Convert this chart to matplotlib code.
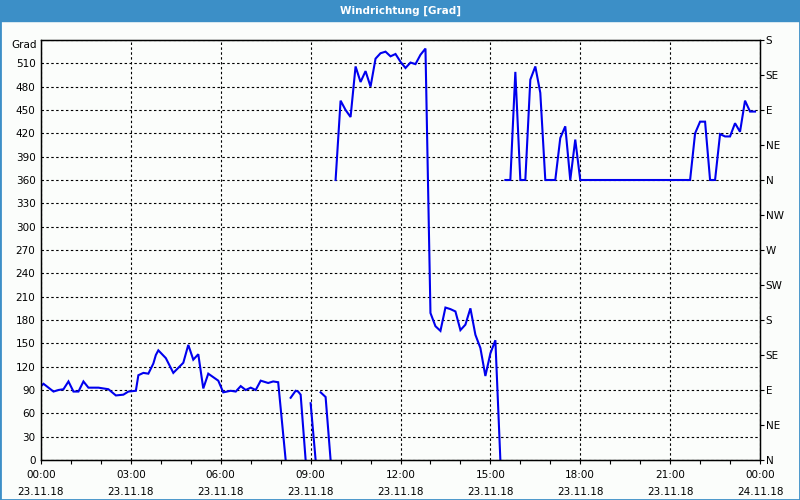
import numpy as np
import matplotlib.pyplot as plt
from matplotlib.patches import Rectangle

# wind direction readings, np.nan marks a break in the line
times = ["00:00", "00:05", "00:25", "00:35", "00:45", "00:55", "01:05", "01:15", "01:25", "01:35",
         "01:55", "02:15", "02:30", "02:45", "02:55", "03:10", "03:15", "03:25", "03:35", "03:45",
         "03:50", "03:55", "04:10", "04:25", "04:45", "04:55", "05:05", "05:15", "05:25", "05:35",
         "05:55", "06:05", "06:20", "06:30", "06:40", "06:50", "07:00", "07:10", "07:20", "07:35",
         "07:45", "07:55", "08:10", "08:15",
         "08:20", "08:30", "08:35", "08:40", "08:50", "08:55",
         "09:00", "09:10", "09:15",
         "09:20", "09:30", "09:40", "09:45",
         "09:50", "10:00", "10:10", "10:20", "10:30", "10:40", "10:50", "11:00", "11:10", "11:20",
         "11:30", "11:40", "11:50", "12:00", "12:10", "12:20", "12:30", "12:40", "12:50", "13:00",
         "13:10", "13:20", "13:30", "13:40", "13:50", "14:00", "14:10", "14:20", "14:30", "14:40",
         "14:50", "15:00", "15:10", "15:20", "15:25",
         "15:30", "15:40", "15:50", "16:00", "16:10", "16:20", "16:30", "16:40", "16:50", "17:10",
         "17:20", "17:30", "17:40", "17:50", "18:00", "21:40", "21:50", "22:00", "22:10", "22:20",
         "22:30", "22:40", "22:50", "23:00", "23:10", "23:20", "23:30", "23:40", "23:50"]
grad = [95, 98, 88, 90, 91, 101, 88, 88, 101, 93,
        93, 91, 83, 84, 88, 89, 109, 112, 111, 124,
        135, 141, 131, 112, 125, 148, 129, 136, 92, 111,
        102, 87, 89, 88, 95, 90, 93, 90, 102, 99,
        101, 100, 0, np.nan,
        80, 89, 88, 84, 0, np.nan,
        73, 0, np.nan,
        87, 81, 0, np.nan,
        360, 462, 450, 441, 506, 486, 500, 480, 516, 523,
        525, 519, 522, 512, 504, 511, 509, 521, 529, 189,
        172, 166, 196, 194, 191, 167, 174, 195, 161, 144,
        108, 137, 154, 0, np.nan,
        360, 360, 499, 360, 360, 489, 506, 472, 360, 360,
        414, 429, 360, 412, 360, 360, 420, 435, 435, 360,
        360, 419, 416, 416, 433, 422, 462, 448, 448]

tick_hours = [0, 3, 6, 9, 12, 15, 18, 21, 24]
tick_labels = ["00:00\n23.11.18", "03:00\n23.11.18", "06:00\n23.11.18", "09:00\n23.11.18",
               "12:00\n23.11.18", "15:00\n23.11.18", "18:00\n23.11.18", "21:00\n23.11.18",
               "00:00\n24.11.18"]
grad_ticks = list(range(0, 541, 30))
grad_labels = [str(v) for v in range(0, 511, 30)] + [""]
dir_ticks = list(range(0, 541, 45))
dir_labels = ["N", "NE", "E", "SE", "S", "SW", "W", "NW", "N", "NE", "E", "SE", "S"]

hours = [int(t[:2]) + int(t[3:]) / 60 for t in times]

blue_bar = '#3c8fc7'
plt.rcParams['font.family'] = 'DejaVu Sans'

fig = plt.figure(figsize=(8, 5), dpi=100, facecolor='#fbfdfb')

# title bar and window border
fig.patches.append(Rectangle((0, 1 - 21 / 500), 1, 21 / 500, transform=fig.transFigure,
                             color=blue_bar, zorder=0))
fig.patches.append(Rectangle((0, 0), 1, 1, transform=fig.transFigure, fill=False,
                             ec=blue_bar, lw=2, zorder=0))
fig.text(0.5, 1 - 10.5 / 500, "Windrichtung [Grad]", color='white', fontweight='bold',
         ha='center', va='center', fontsize=7.5)
# unit label sits a little below the top edge
fig.text(37 / 800, 1 - 45 / 500, "Grad", ha='right', va='center', fontsize=7.5)

ax = fig.add_axes([41 / 800, 40 / 500, 719 / 800, 420 / 500])
ax.set_facecolor('#fbfdfb')
ax.plot(hours, grad, color='#0000ee', lw=1.5, solid_joinstyle='miter')

ax.set_xlim(0, 24)
ax.set_ylim(0, 540)
ax.set_xticks(tick_hours)
ax.set_xticklabels(tick_labels, fontsize=7.5, linespacing=1.9)
ax.set_xticks(range(0, 25), minor=True)
ax.tick_params(axis='x', which='both', direction='out', length=3, width=0.8, pad=4)
ax.set_yticks(grad_ticks)
ax.set_yticklabels(grad_labels, fontsize=7.5)
ax.tick_params(axis='y', length=0, pad=4)

ax.grid(True, which='major', color='black', ls=(0, (2.2, 2.2)), lw=0.8)
for s in ax.spines.values():
    s.set_color('black')
    s.set_linewidth(1)

ax2 = ax.twinx()
ax2.set_ylim(0, 540)
ax2.set_yticks(dir_ticks)
ax2.set_yticklabels(dir_labels, fontsize=7.5)
ax2.tick_params(axis='y', length=3, width=0.8, pad=1)

fig.savefig('out.png', dpi=100, facecolor=fig.get_facecolor())
